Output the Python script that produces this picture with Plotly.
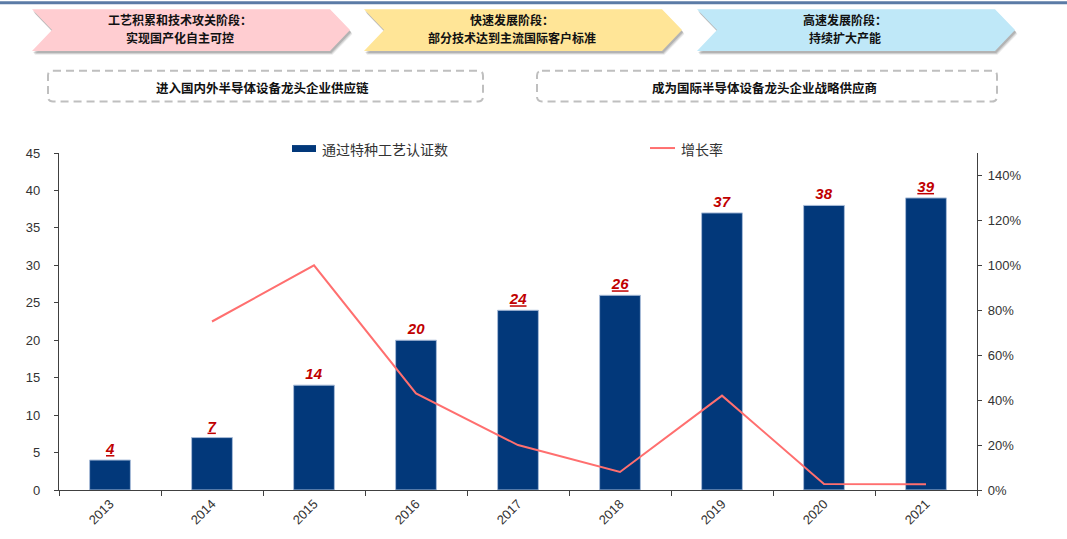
import plotly.graph_objects as go

# ---- data ----
years = ["2013", "2014", "2015", "2016", "2017", "2018", "2019", "2020", "2021"]
cert_counts = [4, 7, 14, 20, 24, 26, 37, 38, 39]
growth_rate = [None, 0.75, 1.00, 0.43, 0.20, 0.08, 0.42, 0.027, 0.026]
label_underlined = [True, True, False, False, True, True, False, False, True]

stage_titles = ["工艺积累和技术攻关阶段：", "快速发展阶段：", "高速发展阶段："]
stage_subtitles = ["实现国产化自主可控", "部分技术达到主流国际客户标准", "持续扩大产能"]
stage_colors = ["#FFCDD1", "#FFE597", "#BFE8F8"]
milestones = ["进入国内外半导体设备龙头企业供应链", "成为国际半导体设备龙头企业战略供应商"]

bar_name = "通过特种工艺认证数"
line_name = "增长率"

# ---- layout geometry (pixels) ----
W, H = 1067, 539
L, R, T, B = 59, 977, 153, 493


def px(x):
    return (x - L) / (R - L)


def py(y):
    return (B - y) / (B - T)


def poly(points):
    return "M " + " L ".join(f"{px(x)},{py(y)}" for x, y in points) + " Z"


fig = go.Figure()

fig.add_trace(go.Bar(
    x=years, y=cert_counts, name=bar_name, width=0.4,
    marker=dict(color="#02387A", line=dict(color="#A9BCD8", width=1)),
    text=[str(v) for v in cert_counts], texttemplate="%{text}",
    textposition="outside", cliponaxis=False,
    textfont=dict(family="Liberation Sans, Arial", size=15, color="#C00000",
                  weight="bold", style="italic",
                  lineposition=["under" if u else "none" for u in label_underlined]),
    showlegend=False, yaxis="y",
))
fig.add_trace(go.Scatter(
    x=years, y=growth_rate, name=line_name, mode="lines",
    line=dict(color="#FF6F6F", width=2), connectgaps=False,
    showlegend=False, yaxis="y2",
))

shapes = []
annotations = []

# top rule
shapes.append(dict(type="rect", xref="paper", yref="paper",
                   x0=px(0), x1=px(W), y0=py(3), y1=py(0),
                   fillcolor="#5B7BA6", line=dict(width=0), layer="above"))

cjk_bold = dict(family="Noto Sans CJK SC", size=12, color="#111", weight="bold")
box_font = dict(family="Noto Sans CJK SC", size=12.5, color="#111", weight="bold")

# stage chevrons
chev_left = [32, 364, 697]
chev_w = 318
notch = 20
top_y, bot_y = 8, 50
mid_y = (top_y + bot_y) / 2
for i, x0 in enumerate(chev_left):
    x1 = x0 + chev_w
    pts = [(x0, top_y), (x1 - notch, top_y), (x1, mid_y), (x1 - notch, bot_y),
           (x0, bot_y), (x0 + notch, mid_y)]
    for off, op in [(4, 0.10), (3, 0.15), (2, 0.20)]:
        shd = [(x + off * 0.6, y + off) for x, y in pts]
        shapes.append(dict(type="path", xref="paper", yref="paper", path=poly(shd),
                           fillcolor=f"rgba(60,60,60,{op})", line=dict(width=0),
                           layer="above"))
    shapes.append(dict(type="path", xref="paper", yref="paper", path=poly(pts),
                       fillcolor=stage_colors[i], line=dict(width=0), layer="above"))
    cx = (x0 + x1) / 2 - 11
    annotations.append(dict(x=px(cx), y=py(18), xref="paper", yref="paper",
                            xanchor="center", yanchor="middle",
                            text=stage_titles[i], showarrow=False, font=cjk_bold))
    annotations.append(dict(x=px(cx), y=py(36), xref="paper", yref="paper",
                            xanchor="center", yanchor="middle",
                            text=stage_subtitles[i], showarrow=False, font=cjk_bold))

# dashed milestone boxes
boxes = [(48, 483), (537, 997)]
by0, by1 = 70, 101
rr = 5
for (bx0, bx1), txt in zip(boxes, milestones):
    path = (f"M {px(bx0 + rr)},{py(by0)} L {px(bx1 - rr)},{py(by0)} "
            f"Q {px(bx1)},{py(by0)} {px(bx1)},{py(by0 + rr)} "
            f"L {px(bx1)},{py(by1 - rr)} Q {px(bx1)},{py(by1)} {px(bx1 - rr)},{py(by1)} "
            f"L {px(bx0 + rr)},{py(by1)} Q {px(bx0)},{py(by1)} {px(bx0)},{py(by1 - rr)} "
            f"L {px(bx0)},{py(by0 + rr)} Q {px(bx0)},{py(by0)} {px(bx0 + rr)},{py(by0)} Z")
    shapes.append(dict(type="path", xref="paper", yref="paper", path=path,
                       line=dict(color="#BFBFBF", width=2, dash="8px,5px"),
                       fillcolor="rgba(0,0,0,0)", layer="above"))
    annotations.append(dict(x=px((bx0 + bx1) / 2 - 3), y=py(87), xref="paper", yref="paper",
                            xanchor="center", yanchor="middle",
                            text=txt, showarrow=False, font=box_font))

# legend
legend_font = dict(family="Noto Sans CJK SC", size=14, color="#333")
shapes.append(dict(type="rect", xref="paper", yref="paper",
                   x0=px(292), x1=px(316), y0=py(152), y1=py(145),
                   fillcolor="#02387A", line=dict(width=0), layer="above"))
annotations.append(dict(x=px(320), y=py(148.5), xref="paper", yref="paper",
                        xanchor="left", yanchor="middle", text=bar_name,
                        showarrow=False, font=legend_font))
shapes.append(dict(type="line", xref="paper", yref="paper",
                   x0=px(650), x1=px(675), y0=py(148), y1=py(148),
                   line=dict(color="#FF6F6F", width=2), layer="above"))
annotations.append(dict(x=px(679), y=py(148.5), xref="paper", yref="paper",
                        xanchor="left", yanchor="middle", text=line_name,
                        showarrow=False, font=legend_font))

tick_font = dict(family="Liberation Sans, Arial", size=13, color="#333")

fig.update_layout(
    width=W, height=H,
    margin=dict(l=L, r=W - R, t=T, b=H - B, pad=0),
    paper_bgcolor="white", plot_bgcolor="white",
    showlegend=False,
    shapes=shapes,
    annotations=annotations,
    xaxis=dict(
        type="category", showline=True, linecolor="#404040", linewidth=1.3,
        ticks="outside", tickson="boundaries", ticklen=5, tickcolor="#404040",
        tickangle=-45, tickfont=tick_font, showgrid=False, zeroline=False,
        range=[-0.5, len(years) - 0.5],
    ),
    yaxis=dict(
        range=[0, 45], tickvals=list(range(0, 46, 5)), showline=True,
        linecolor="#404040", linewidth=1.3, ticks="outside", ticklen=4,
        tickcolor="#404040", tickfont=tick_font, showgrid=False, zeroline=False,
        ticklabelstandoff=11,
    ),
    yaxis2=dict(
        overlaying="y", side="right", range=[0, 1.5],
        tickvals=[0, 0.2, 0.4, 0.6, 0.8, 1.0, 1.2, 1.4], tickformat=".0%",
        showline=True, linecolor="#404040", linewidth=1.3, ticks="outside",
        ticklen=4, tickcolor="#404040", tickfont=tick_font, showgrid=False,
        zeroline=False, ticklabelstandoff=3,
    ),
)

fig.write_html("out.html")
